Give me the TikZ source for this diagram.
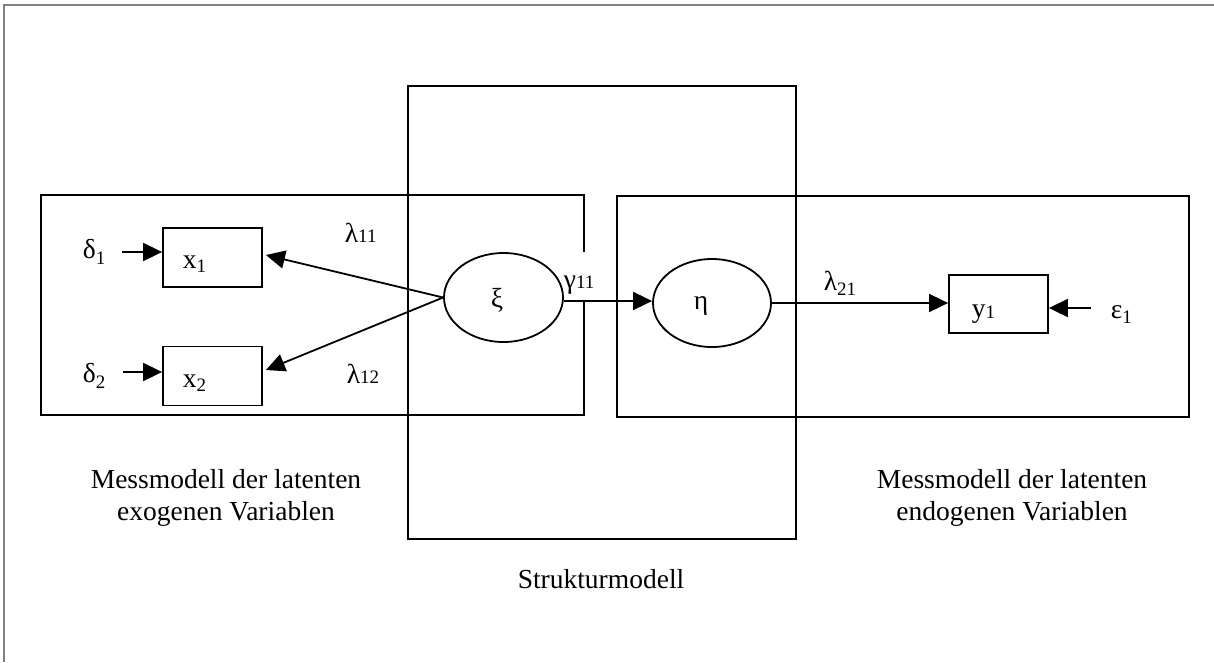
\documentclass[tikz,border=0pt]{standalone}
\usepackage{fontspec}
\setmainfont{Liberation Serif}
\usetikzlibrary{arrows.meta,calc,shapes.geometric}
\newcommand{\lsub}[2]{\raisebox{-#1pt}{\fontsize{19}{19}\selectfont #2}}
\begin{document}
\begin{tikzpicture}[x=1pt,y=-1pt,line width=1.8pt,
  obs/.style={draw,rectangle,minimum width=99pt,minimum height=59pt,inner sep=0pt},
  lat/.style={draw,ellipse,minimum width=119pt,minimum height=89pt,inner sep=0pt},
  lbl/.style={inner sep=0pt,anchor=base west,font=\fontsize{27.5}{32}\selectfont},
  captext/.style={inner sep=0pt,align=center,font=\fontsize{27.5}{32}\selectfont},
  arr/.style={-{Triangle[length=19pt,width=18pt]},line width=1.8pt}]
\useasboundingbox (0,0) rectangle (1214,662);
% outer frame (cut at right and bottom)
\draw[black!50,line width=1.5pt] (4,662) -- (4,5) -- (1214,5);
% model frames
\draw (584,252) -- (584,195) -- (41,195) -- (41,415) -- (584,415) -- (584,301);
\draw (408,86) rectangle (796,539);
\draw (617,196) rectangle (1189,417);
% variables
\node[obs] (x1) at (212.5,257.5) {};
\node[obs] (x2) at (212.5,376) {};
\node[obs,minimum height=58pt] (y1) at (998.5,304) {};
\node[lat] (xi) at (503.5,297.5) {};
\node[lat,minimum width=118pt,minimum height=88pt] (eta) at (712,303) {};
% texts
\node[lbl] (x1t) at (182,268) {x\lsub{4}{1}};
\node[lbl] (x2t) at (182,387) {x\lsub{4}{2}};
\node[lbl] (y1t) at (971,317) {y\lsub{1}{1}};
\node[lbl,anchor=base] (xit) at (497,307) {ξ};
\node[lbl,anchor=base] (etat) at (701,309) {η};
\node[lbl] (d1) at (82,258) {δ\lsub{6}{1}};
\node[lbl] (d2) at (82,382) {δ\lsub{6}{2}};
\node[lbl] (e1) at (1110,318) {ε\lsub{5}{1}};
\node[lbl] (l11) at (344,242) {λ\lsub{0}{11}};
\node[lbl] (l12) at (346,383) {λ\lsub{0}{12}};
\node[lbl] (l21) at (823,290) {λ\lsub{5}{21}};
\node[lbl] (g11) at (563,288) {γ\lsub{0}{11}};
% connectors
\coordinate (d1s) at (122,252);
\coordinate (d2s) at (123,372);
\coordinate (e1s) at (1091,308);
\draw[arr] (d1s) -- (d1s -| x1.west);
\draw[arr] (d2s) -- (d2s -| x2.west);
\draw[arr] (e1s) -- (e1s -| y1.east);
\draw[arr] (xi.west) -- ($(x1.east)+(3,-2.5)$);
\draw[arr] (xi.west) -- ($(x2.east)+(3,-6)$);
\draw[arr] ($(xi.east)+(0,3.5)$) -- ($(eta.west)+(0,-2)$);
\draw[arr] (eta.east) -- (eta.east -| y1.west);
% captions
\node[captext] (capx) at (226,498) {Messmodell der latenten\\exogenen Variablen};
\node[captext] (capn) at (1012,498) {Messmodell der latenten\\endogenen Variablen};
\node[lbl,anchor=base] (caps) at (601,588) {Strukturmodell};
\end{tikzpicture}
\end{document}
